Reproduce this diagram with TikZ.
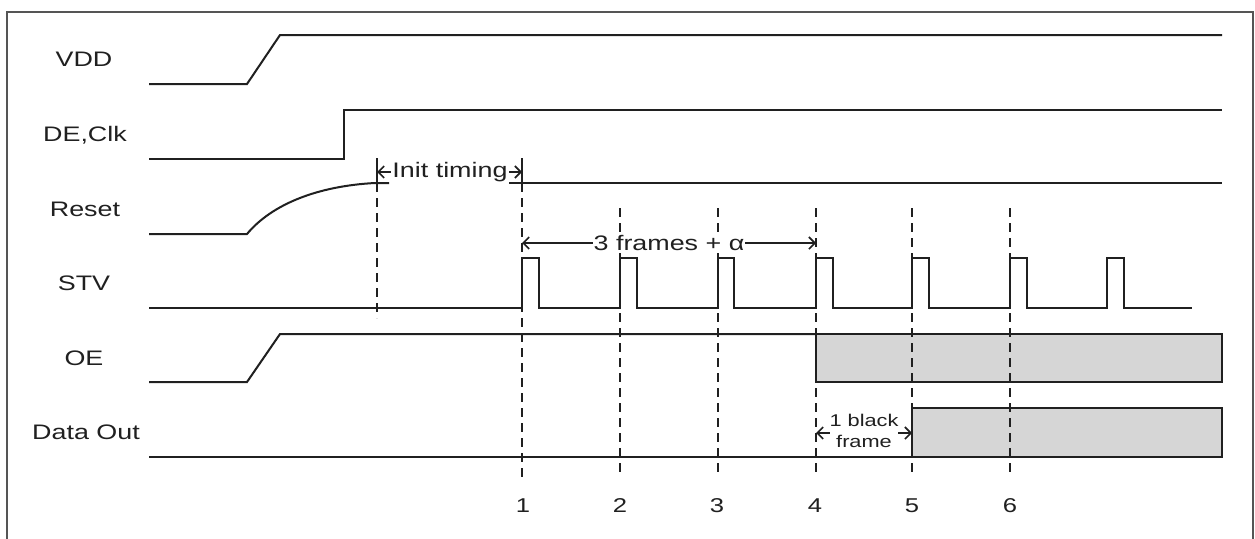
\documentclass[tikz,border=0pt]{standalone}
\usepackage{fontspec}
\setmainfont{Liberation Sans}[FakeStretch=1.28]
\usetikzlibrary{arrows.meta}
\definecolor{sigc}{HTML}{202020}
\definecolor{framec}{HTML}{555555}
\definecolor{boxfill}{HTML}{D6D6D6}
\begin{document}
\begin{tikzpicture}[x=1pt,y=-1pt,
  sig/.style={line width=2pt, draw=sigc, line join=miter},
  vline/.style={line width=2pt, draw=sigc, dash pattern=on 8.5pt off 6.5pt},
  tick/.style={line width=2pt, draw=sigc},
  dim/.style={line width=1.6pt, draw=sigc, {Straight Barb[length=6pt,width=12pt]}-{Straight Barb[length=6pt,width=12pt]}},
  lbl/.style={font=\fontsize{21}{25}\selectfont, inner sep=0pt, anchor=base, text=sigc},
  num/.style={font=\fontsize{20}{24}\selectfont, inner sep=0pt, anchor=base, text=sigc},
  dimtxt/.style={fill=white, inner sep=1pt, text=sigc},
  databox/.style={line width=2pt, draw=sigc, fill=boxfill}]
\useasboundingbox (0,0) rectangle (1255,538);
\fill[white] (0,0) rectangle (1255,538);
% frame
\draw[framec, line width=1.6pt] (7,540) -- (7,12) -- (1253,12) -- (1253,540);
% signal names
\node[lbl] (lvdd)   at (84,66)  {VDD};
\node[lbl] (lde)    at (85,141) {DE,Clk};
\node[lbl] (lreset) at (85,216) {Reset};
\node[lbl] (lstv)   at (84,290) {STV};
\node[lbl] (loe)    at (84,365) {OE};
\node[lbl] (ldata)  at (86,439) {Data Out};
% shaded boxes
\draw[databox] (816,334) rectangle (1222,382);
\draw[databox] (912,408) rectangle (1222,457);
% waveforms
\draw[sig] (149,84) -- (247,84) -- (280,35) -- (1222,35);
\draw[sig] (149,159) -- (344,159) -- (344,110) -- (1222,110);
\draw[sig] (149,234) -- (247,234) .. controls (272,204) and (318,186) .. (375,183) -- (389,183);
\draw[sig] (509,183) -- (1222,183);
\draw[sig] (149,308) -- (522,308) -- (522,258) -- (539,258) -- (539,308)
  -- (620,308) -- (620,258) -- (637,258) -- (637,308)
  -- (718,308) -- (718,258) -- (734,258) -- (734,308)
  -- (816,308) -- (816,258) -- (833,258) -- (833,308)
  -- (912,308) -- (912,258) -- (929,258) -- (929,308)
  -- (1010,308) -- (1010,258) -- (1027,258) -- (1027,308)
  -- (1107,308) -- (1107,258) -- (1124,258) -- (1124,308) -- (1192,308);
\draw[sig] (149,382) -- (247,382) -- (280,334) -- (816,334);
\draw[sig] (149,457) -- (912,457);
% timing markers
\coordinate (i0t) at (377,158); \coordinate (i0m) at (377,183); \coordinate (i0b) at (377,318);
\coordinate (m1t) at (522,158); \coordinate (m1m) at (522,183); \coordinate (m1b) at (522,481);
\draw[tick] (i0t) -- (i0m);
\draw[tick] (m1t) -- (m1m);
\draw[vline] (i0m) -- (i0b);
\draw[vline] (m1m) -- (m1b);
\foreach \x/\n in {620/2,718/3,816/4,912/5,1010/6}{
  \coordinate (m\n t) at (\x,208);
  \coordinate (m\n b) at (\x,475);
  \draw[vline] (m\n t) -- (m\n b);
}
% dimension arrows
\coordinate (ia) at (377,172); \coordinate (ib) at (522,172);
\draw[dim] (ia) -- (ib);
\node[dimtxt, font=\fontsize{21}{25}\selectfont] (tinit) at (450,172) {Init timing};
\coordinate (fa) at (522,243); \coordinate (fb) at (816,243);
\draw[dim] (fa) -- (fb);
\node[dimtxt, font=\fontsize{21}{25}\selectfont] (tframes) at (669,243) {3 frames + α};
\coordinate (ba) at (816,433); \coordinate (bb) at (912,433);
\draw[dim] (ba) -- (bb);
\node[dimtxt, font=\fontsize{17}{21}\selectfont, align=center, inner sep=0pt] (tblack) at (864,431) {1 black\\frame};
% frame numbers
\node[num] (n1) at (523,512) {1};
\node[num] (n2) at (620,512) {2};
\node[num] (n3) at (717,512) {3};
\node[num] (n4) at (815,512) {4};
\node[num] (n5) at (912,512) {5};
\node[num] (n6) at (1010,512) {6};
\end{tikzpicture}
\end{document}
